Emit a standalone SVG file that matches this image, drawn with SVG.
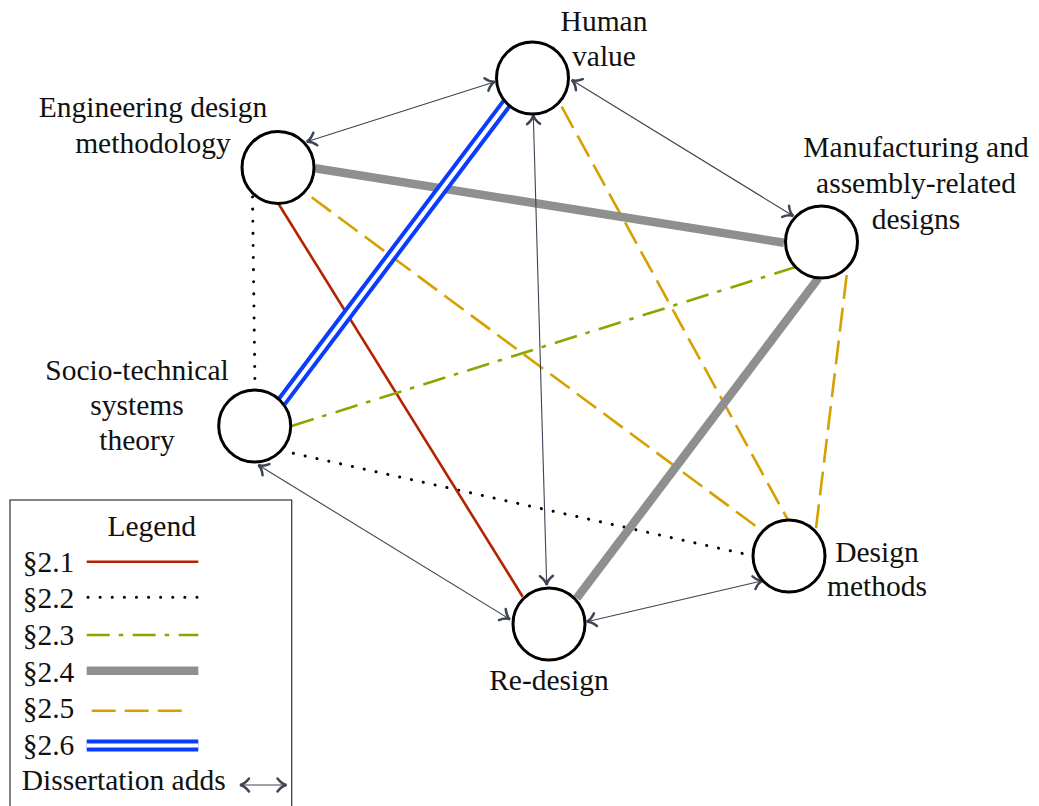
<svg xmlns="http://www.w3.org/2000/svg" width="1039" height="806" viewBox="0 0 1039 806">
<style>
text{font-family:"Liberation Serif","Tinos","Noto Serif","FreeSerif","DejaVu Serif",serif;font-size:29.5px;fill:#111}
.lbl{text-anchor:middle}
.node{fill:#fff;stroke:#000;stroke-width:3}
.arr{stroke:#3e4453;stroke-width:1.1;fill:none;marker-start:url(#ah);marker-end:url(#ah)}
.red{stroke:#b42200;stroke-width:2.6;fill:none}
.dot{stroke:#000;stroke-width:3;stroke-dasharray:0.1 12;stroke-linecap:round;fill:none}
.grn{stroke:#88a800;stroke-width:2.6;stroke-dasharray:23 9 4.5 9.5;fill:none}
.gry{stroke:#8f8f8f;stroke-width:8.5;fill:none}
.gld{stroke:#d6a100;stroke-width:2.6;stroke-dasharray:24 9;fill:none}
.blu{stroke:#0a3cff;stroke-width:12;fill:none}
.bluin{stroke:#fff;stroke-width:4;fill:none}
</style>
<defs>
<marker id="ah" markerUnits="userSpaceOnUse" viewBox="-12 -9 15 18" refX="0" refY="0" markerWidth="15" markerHeight="18" orient="auto-start-reverse">
<path d="M-9,-6.5 C-6,-2.5 -3,-0.6 0,0 C-3,0.6 -6,2.5 -9,6.5" fill="none" stroke="#3e4453" stroke-width="2.5" stroke-linecap="round"/>
</marker>
</defs>
<g id="connectors">
<line class="gld" x1="561.7" y1="106.7" x2="788.3" y2="520.7"/>
<line class="gld" x1="311.7" y1="197.3" x2="763.3" y2="531.7"/>
<line class="gld" x1="846.7" y1="275" x2="815.8" y2="530"/>
<line class="dot" x1="252.5" y1="197" x2="255" y2="390"/>
<line class="dot" x1="293.3" y1="453.3" x2="749.3" y2="555"/>
<line class="red" x1="278" y1="203" x2="522.7" y2="596.7"/>
<line class="grn" x1="291.7" y1="426" x2="795" y2="267.3"/>
<line class="gry" x1="315" y1="168.3" x2="784" y2="242.7"/>
<line class="gry" x1="818.3" y1="278.3" x2="576.7" y2="598.3"/>
<line class="blu" x1="506.7" y1="103.3" x2="281.7" y2="401.7"/>
<line class="bluin" x1="506.7" y1="103.3" x2="281.7" y2="401.7"/>
<line class="arr" x1="306.7" y1="141.7" x2="495" y2="81.7"/>
<line class="arr" x1="571.7" y1="80" x2="793.3" y2="216"/>
<line class="arr" x1="533.3" y1="115" x2="546.7" y2="585"/>
<line class="arr" x1="258.3" y1="465" x2="510" y2="619.3"/>
<line class="arr" x1="586.7" y1="621.7" x2="762.7" y2="580.7"/>
</g>
<g id="human-value">
<circle class="node" cx="532.5" cy="78" r="36"/>
<text class="lbl" x="604" y="31">Human</text>
<text class="lbl" x="604" y="66">value</text>
</g>
<g id="engineering-design-methodology">
<circle class="node" cx="278" cy="167.5" r="36"/>
<text class="lbl" x="153" y="117">Engineering design</text>
<text class="lbl" x="153" y="153">methodology</text>
</g>
<g id="manufacturing">
<circle class="node" cx="821.5" cy="242" r="36"/>
<text class="lbl" x="916" y="157">Manufacturing and</text>
<text class="lbl" x="916" y="192.5">assembly-related</text>
<text class="lbl" x="916" y="228.5">designs</text>
</g>
<g id="socio-technical">
<circle class="node" cx="254.7" cy="426" r="36"/>
<text class="lbl" x="137" y="380">Socio-technical</text>
<text class="lbl" x="137" y="415">systems</text>
<text class="lbl" x="137" y="450">theory</text>
</g>
<g id="design-methods">
<circle class="node" cx="789" cy="556" r="36"/>
<text class="lbl" x="877" y="562">Design</text>
<text class="lbl" x="877" y="596">methods</text>
</g>
<g id="re-design">
<circle class="node" cx="549" cy="624" r="36"/>
<text class="lbl" x="549" y="690">Re-design</text>
</g>
<g id="legend">
<rect x="10" y="500" width="281.7" height="330" fill="#fff" stroke="#333" stroke-width="1.2"/>
<text class="lbl" x="151.7" y="536">Legend</text>
<text x="22.7" y="572">§2.1</text>
<text x="22.7" y="608">§2.2</text>
<text x="22.7" y="645">§2.3</text>
<text x="22.7" y="682">§2.4</text>
<text x="22.7" y="718">§2.5</text>
<text x="22.7" y="755">§2.6</text>
<text x="21.7" y="790">Dissertation adds</text>
<line class="red" x1="86.7" y1="561.7" x2="198.3" y2="561.7"/>
<line class="dot" x1="88" y1="597.3" x2="198.3" y2="597.3"/>
<line class="grn" x1="86.7" y1="635" x2="198.3" y2="635"/>
<line class="gry" x1="86.7" y1="670.7" x2="198.3" y2="670.7"/>
<line class="gld" x1="91.7" y1="710.7" x2="182.7" y2="710.7"/>
<line class="blu" x1="86.7" y1="745.5" x2="198.3" y2="745.5"/>
<line class="bluin" x1="86.7" y1="745.5" x2="198.3" y2="745.5"/>
<line class="arr" x1="240" y1="785" x2="286.5" y2="785"/>
</g>
</svg>
